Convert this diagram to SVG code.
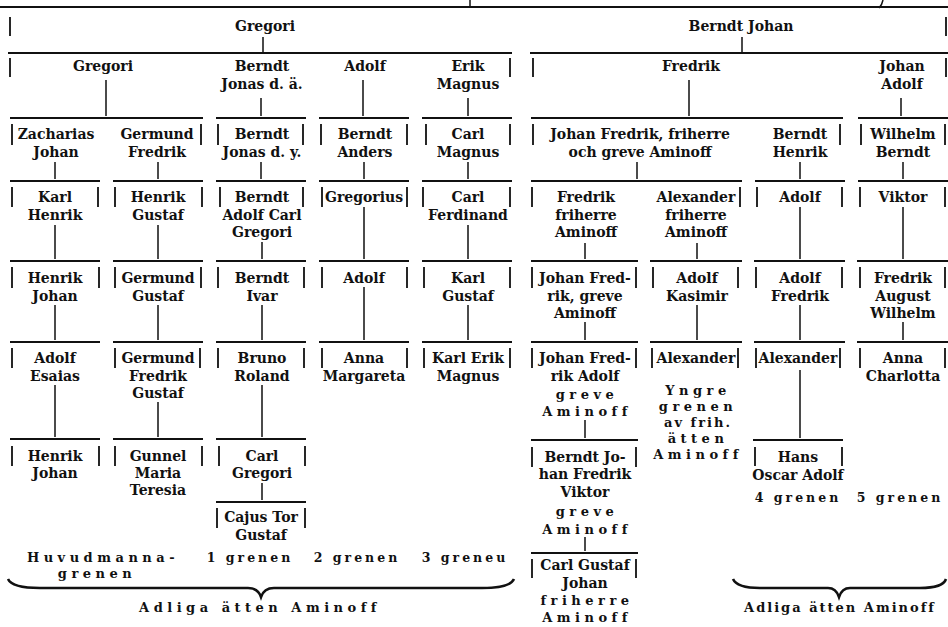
<svg xmlns="http://www.w3.org/2000/svg" width="948" height="627" viewBox="0 0 948 627">
<style>
.bg{fill:#ffffff}
text{font-family:"DejaVu Serif","Liberation Serif",serif;font-weight:bold;font-size:14px;fill:#111;text-anchor:middle}
.sp{letter-spacing:4.5px;font-size:13px}
.sp2{letter-spacing:2px;font-size:13px}
.gr{letter-spacing:3px;font-size:12.5px}
.h{stroke:#111;stroke-width:2;fill:none}
.v{stroke:#111;stroke-width:1.5;fill:none}
.b{stroke:#111;stroke-width:1.8;fill:none}
.br{stroke:#111;stroke-width:2.6;fill:none}
</style>
<rect class="bg" x="0" y="0" width="948" height="627"/>
<g id="connectors">
<path class="h" d="M0 7H948"/>
<path class="v" d="M470 0V6"/>
<path class="v" d="M883 0Q882 5 879 8"/>
<path class="b" d="M10 17V36M946 17V36"/>
<path class="v" d="M263 37V52M742 37V52"/>
<path class="h" d="M8 53H512M530 53H948"/>
<path class="b" d="M10 58V77M510 58V77M533 58V77M946 58V77"/>
<path class="v" d="M106 80V116M261 98V116M363 80V116M468 98V116M689 80V116M901 98V116"/>
<path class="h" d="M10 118H203M216 118H306M319 118H409M422 118H512M531 118H843M858 118H948"/>
<path class="b" d="M12 124V145M201 124V145M218 124V145M303 124V145M321 124V145M407 124V145M426 124V145M510 124V145M533 124V145M840 124V145M861 124V145M945 124V145"/>
<path class="v" d="M55 162V179M158 162V179M261 162V179M364 162V179M468 162V179M637 162V179M800 162V179M903 162V179"/>
<path class="h" d="M10 181H100M113 181H203M216 181H306M319 181H409M422 181H512M531 181H742M755 181H845M858 181H948"/>
<path class="b" d="M12 187V207M98 187V207M115 187V207M202 187V207M220 187V207M303 187V207M322 187V207M407 187V207M423 187V207M510 187V207M532 187V207M740 187V207M757 187V207M842 187V207M860 187V207M945 187V207"/>
<path class="v" d="M55 225V259M158 225V259M262 242V259M364 207V259M468 225V259M585 243V259M697 243V259M800 207V259M903 207V259"/>
<path class="h" d="M10 261H100M113 261H203M216 261H306M319 261H409M422 261H512M531 261H638M650 261H742M754 261H845M857 261H948"/>
<path class="b" d="M12 267V288M99 267V288M115 267V288M201 267V288M218 267V288M304 267V288M322 267V288M407 267V288M424 267V288M510 267V288M532 267V288M636 267V288M653 267V288M738 267V288M756 267V288M842 267V288M860 267V288M945 267V288"/>
<path class="v" d="M55 305V340M158 305V340M262 305V340M364 287V340M468 305V340M585 322V340M697 305V340M800 305V340M903 322V340"/>
<path class="h" d="M10 342H100M113 342H203M216 342H306M319 342H409M422 342H512M531 342H638M650 342H742M754 342H845M857 342H948"/>
<path class="b" d="M12 348V368M115 348V368M200 348V368M218 348V368M304 348V368M322 348V368M407 348V368M424 348V368M510 348V368M532 348V368M636 348V368M652 348V368M738 348V368M756 348V368M840 348V368M860 348V368M945 348V368"/>
<path class="v" d="M55 385V437M158 402V437M262 385V437M585 420V438M800 370V438"/>
<path class="h" d="M10 439H100M113 439H203M216 439H306M531 440H638M753 440H843"/>
<path class="b" d="M12 446V466M99 446V466M115 446V466M202 446V466M219 446V466M305 446V466M532 447V467M636 447V467M755 447V466M842 447V466"/>
<path class="v" d="M262 483V500M585 537V551"/>
<path class="h" d="M216 502H306M531 553H638"/>
<path class="b" d="M217 508V528M305 508V528M532 559V578M636 559V578"/>
<path class="br" d="M8 579Q12 588 40 588L248 588Q258 588 261 597Q264 588 274 588L482 588Q510 588 514 579"/>
<path class="br" d="M733 579Q737 588 760 588L828 588Q836 588 839 597Q842 588 850 588L920 588Q943 588 946 579"/>
</g>
<g id="n-gregori-1"><text x="265" y="31">Gregori</text></g>
<g id="n-berndt-johan"><text x="741" y="31">Berndt Johan</text></g>
<g id="n-gregori-2"><text x="103" y="71">Gregori</text></g>
<g id="n-berndt-jonas-da"><text x="262" y="71">Berndt</text><text x="262" y="89">Jonas d. ä.</text></g>
<g id="n-adolf-2"><text x="365" y="71">Adolf</text></g>
<g id="n-erik-magnus"><text x="468" y="71">Erik</text><text x="468" y="89">Magnus</text></g>
<g id="n-fredrik-2"><text x="691" y="71">Fredrik</text></g>
<g id="n-johan-adolf"><text x="902" y="71">Johan</text><text x="902" y="89">Adolf</text></g>
<g id="n-zacharias-johan"><text x="56" y="139">Zacharias</text><text x="56" y="157">Johan</text></g>
<g id="n-germund-fredrik"><text x="157" y="139">Germund</text><text x="157" y="157">Fredrik</text></g>
<g id="n-berndt-jonas-dy"><text x="262" y="139">Berndt</text><text x="262" y="157">Jonas d. y.</text></g>
<g id="n-berndt-anders"><text x="365" y="139">Berndt</text><text x="365" y="157">Anders</text></g>
<g id="n-carl-magnus"><text x="468" y="139">Carl</text><text x="468" y="157">Magnus</text></g>
<g id="n-johan-fredrik-friherre"><text x="640" y="139">Johan Fredrik, friherre</text><text x="640" y="157">och greve Aminoff</text></g>
<g id="n-berndt-henrik"><text x="800" y="139">Berndt</text><text x="800" y="157">Henrik</text></g>
<g id="n-wilhelm-berndt"><text x="903" y="139">Wilhelm</text><text x="903" y="157">Berndt</text></g>
<g id="n-karl-henrik"><text x="55" y="202">Karl</text><text x="55" y="220">Henrik</text></g>
<g id="n-henrik-gustaf"><text x="158" y="202">Henrik</text><text x="158" y="220">Gustaf</text></g>
<g id="n-berndt-adolf-carl-gregori"><text x="262" y="202">Berndt</text><text x="262" y="220">Adolf Carl</text><text x="262" y="237">Gregori</text></g>
<g id="n-gregorius"><text x="364" y="202">Gregorius</text></g>
<g id="n-carl-ferdinand"><text x="468" y="202">Carl</text><text x="468" y="220">Ferdinand</text></g>
<g id="n-fredrik-friherre"><text x="586" y="202">Fredrik</text><text x="586" y="220">friherre</text><text x="586" y="237">Aminoff</text></g>
<g id="n-alexander-friherre"><text x="696" y="202">Alexander</text><text x="696" y="220">friherre</text><text x="696" y="237">Aminoff</text></g>
<g id="n-adolf-4"><text x="800" y="202">Adolf</text></g>
<g id="n-viktor"><text x="903" y="202">Viktor</text></g>
<g id="n-henrik-johan-5"><text x="55" y="283">Henrik</text><text x="55" y="301">Johan</text></g>
<g id="n-germund-gustaf"><text x="158" y="283">Germund</text><text x="158" y="301">Gustaf</text></g>
<g id="n-berndt-ivar"><text x="262" y="283">Berndt</text><text x="262" y="301">Ivar</text></g>
<g id="n-adolf-5"><text x="364" y="283">Adolf</text></g>
<g id="n-karl-gustaf"><text x="468" y="283">Karl</text><text x="468" y="301">Gustaf</text></g>
<g id="n-johan-fredrik-greve"><text x="585" y="283">Johan Fred-</text><text x="585" y="301">rik, greve</text><text x="585" y="318">Aminoff</text></g>
<g id="n-adolf-kasimir"><text x="697" y="283">Adolf</text><text x="697" y="301">Kasimir</text></g>
<g id="n-adolf-fredrik"><text x="800" y="283">Adolf</text><text x="800" y="301">Fredrik</text></g>
<g id="n-fredrik-august-wilhelm"><text x="903" y="283">Fredrik</text><text x="903" y="301">August</text><text x="903" y="318">Wilhelm</text></g>
<g id="n-adolf-esaias"><text x="55" y="363">Adolf</text><text x="55" y="381">Esaias</text></g>
<g id="n-germund-fredrik-gustaf"><text x="158" y="363">Germund</text><text x="158" y="381">Fredrik</text><text x="158" y="398">Gustaf</text></g>
<g id="n-bruno-roland"><text x="262" y="363">Bruno</text><text x="262" y="381">Roland</text></g>
<g id="n-anna-margareta"><text x="364" y="363">Anna</text><text x="364" y="381">Margareta</text></g>
<g id="n-karl-erik-magnus"><text x="468" y="363">Karl Erik</text><text x="468" y="381">Magnus</text></g>
<g id="n-johan-fredrik-adolf"><text x="585" y="363">Johan Fred-</text><text x="585" y="381">rik Adolf</text><text class="sp" x="587" y="399">greve</text><text class="sp" x="587" y="416">Aminoff</text></g>
<g id="n-alexander-6a"><text x="696" y="363">Alexander</text></g>
<g id="n-alexander-6b"><text x="798" y="363">Alexander</text></g>
<g id="n-anna-charlotta"><text x="903" y="363">Anna</text><text x="903" y="381">Charlotta</text></g>
<g id="n-yngre-grenen"><text class="sp" x="698" y="395">Yngre</text><text class="sp" x="698" y="411">grenen</text><text class="sp2" x="698" y="427">av frih.</text><text class="sp" x="698" y="443">ätten</text><text class="sp" x="698" y="459">Aminoff</text></g>
<g id="n-henrik-johan-7"><text x="55" y="461">Henrik</text><text x="55" y="478">Johan</text></g>
<g id="n-gunnel-maria-teresia"><text x="158" y="461">Gunnel</text><text x="158" y="478">Maria</text><text x="158" y="495">Teresia</text></g>
<g id="n-carl-gregori"><text x="262" y="461">Carl</text><text x="262" y="478">Gregori</text></g>
<g id="n-berndt-johan-fredrik-viktor"><text x="585" y="462">Berndt Jo-</text><text x="585" y="479">han Fredrik</text><text x="585" y="497">Viktor</text><text class="sp" x="587" y="516">greve</text><text class="sp" x="587" y="534">Aminoff</text></g>
<g id="n-hans-oscar-adolf"><text x="798" y="462">Hans</text><text x="798" y="480">Oscar Adolf</text></g>
<g id="n-cajus-tor-gustaf"><text x="261" y="522">Cajus Tor</text><text x="261" y="540">Gustaf</text></g>
<g id="n-carl-gustaf-johan"><text x="585" y="570">Carl Gustaf</text><text x="585" y="588">Johan</text><text class="sp" x="587" y="605">friherre</text><text class="sp" x="587" y="622">Aminoff</text></g>
<g id="labels">
<text class="sp" x="103" y="562">Huvudmanna-</text>
<text class="sp" x="97" y="578">grenen</text>
<text class="gr" x="250" y="562">1 grenen</text>
<text class="gr" x="357" y="562">2 grenen</text>
<text class="gr" x="465" y="562">3 greneu</text>
<text class="gr" x="798" y="502">4 grenen</text>
<text class="gr" x="900" y="502">5 grenen</text>
<text class="sp" x="260" y="612">Adliga ätten Aminoff</text>
<text class="sp2" x="840" y="612">Adliga ätten Aminoff</text>
</g>
</svg>
